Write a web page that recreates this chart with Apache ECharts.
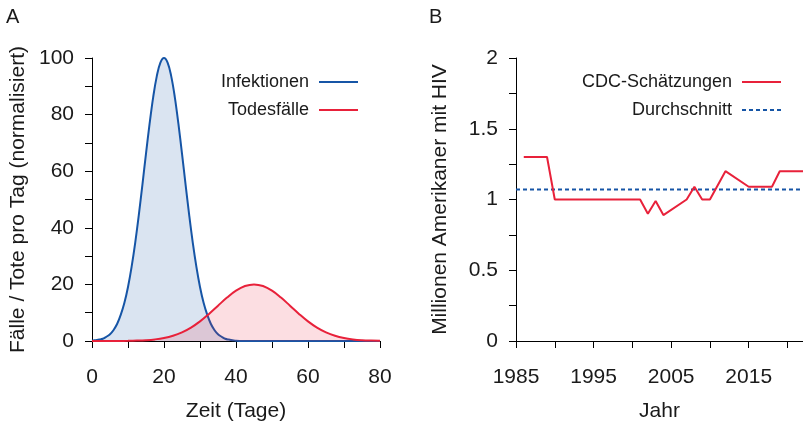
<!DOCTYPE html>
<html>
<head>
<meta charset="utf-8">
<script src="https://cdn.jsdelivr.net/npm/echarts@6/dist/echarts.min.js"></script>
<style>
html,body{margin:0;padding:0;background:#fff;}
#c{width:803px;height:427px;}
</style>
</head>
<body>
<div id="c"></div>
<script>
// Panel A data (days, normalized per-day values)
var daysInf = [0,1,2,3,4,5,6,7,8,9,10,11,12,13,14,15,16,17,18,19,20,21,22,23,24,25,26,27,28,29,30,31,32,33,34,35,36,37,38,39,40,42,80];
var infektionen = [0.1,0.3,0.5,0.8,1.5,2.4,3.9,6.1,9.3,13.5,19.1,26.2,34.7,44.5,55.2,66.2,76.8,86.2,93.6,98.4,100,98.4,93.6,86.2,76.8,66.2,55.2,44.5,34.7,26.2,19.1,13.5,9.3,6.1,3.9,2.4,1.5,0.8,0.5,0.3,0.1,0,0];
var daysTod = [0,2.5,5,7.5,10,12.5,15,17.5,20,22.5,25,27.5,30,32.5,35,37.5,40,42.5,45,47.5,50,52.5,55,57.5,60,62.5,65,67.5,70,72.5,75,77.5,80];
var todesfaelle = [0,0,0.01,0.03,0.06,0.14,0.29,0.57,1.05,1.84,3.04,4.72,6.93,9.58,12.48,15.34,17.78,19.42,20,19.42,17.78,15.34,12.48,9.58,6.93,4.72,3.04,1.84,1.05,0.57,0.29,0.14,0.06];
var xTicksA = [0,20,40,60,80];
var yTicksA = [0,20,40,60,80,100];

// Panel B data (millions of Americans with HIV)
var jahre = [1986,1989,1990,2001,2002,2003,2004,2007,2008,2009,2010,2012,2015,2018,2019,2022];
var cdc = [1.3,1.3,1.0,1.0,0.9,0.99,0.89,1.0,1.09,1.0,1.0,1.2,1.09,1.09,1.2,1.2];
var durchschnittJahre = [1985,2022];
var durchschnitt = [1.07,1.07];
var xTicksB = [1985,1995,2005,2015];
var yTicksB = [0,0.5,1,1.5,2];

function pairs(xs, ys){ return xs.map(function(x,i){return [x, ys[i]];}); }

var FONT = 'Liberation Sans, Arial, Helvetica, sans-serif';
var TXT = '#1a1a1a';
var BLUE = '#1655a6';
var RED = '#e8213a';

function axisCommon(){
  return {
    axisLine:{show:true, onZero:false, lineStyle:{color:'#000', width:1}},
    axisTick:{show:true, inside:false, length:7, lineStyle:{color:'#000', width:1}},
    splitLine:{show:false},
    nameTextStyle:{color:TXT, fontSize:21, fontFamily:FONT},
    axisLabel:{color:TXT, fontSize:21, fontFamily:FONT}
  };
}

function labelIn(list){
  return function(v){
    for (var i=0;i<list.length;i++){ if (Math.abs(list[i]-v) < 1e-6) return String(list[i]); }
    return '';
  };
}

var xA = Object.assign(axisCommon(), {
  type:'value', gridIndex:0, min:0, max:80, interval:10,
  name:'Zeit (Tage)', nameLocation:'middle', nameGap:60
});
xA.axisLabel = Object.assign(xA.axisLabel, {margin:26, formatter:labelIn(xTicksA), showMaxLabel:true});

var yA = Object.assign(axisCommon(), {
  type:'value', gridIndex:0, min:0, max:100, interval:10,
  name:'Fälle / Tote pro Tag (normalisiert)', nameLocation:'middle', nameGap:63
});
yA.axisLabel = Object.assign(yA.axisLabel, {margin:18, formatter:labelIn(yTicksA)});

var xB = Object.assign(axisCommon(), {
  type:'value', gridIndex:1, min:1985, max:2022, interval:5,
  name:'Jahr', nameLocation:'middle', nameGap:60
});
xB.axisLabel = Object.assign(xB.axisLabel, {margin:26, formatter:labelIn(xTicksB), showMaxLabel:false});

var yB = Object.assign(axisCommon(), {
  type:'value', gridIndex:1, min:0, max:2, interval:0.25,
  name:'Millionen Amerikaner mit HIV', nameLocation:'middle', nameGap:65
});
yB.axisLabel = Object.assign(yB.axisLabel, {margin:18, formatter:labelIn(yTicksB)});

var legendCommon = {
  orient:'vertical', align:'right', top:73, padding:0, itemWidth:39, itemHeight:16, itemGap:10,
  textStyle:{color:TXT, fontSize:18, fontFamily:FONT, padding:[0,5,0,0]},
  itemStyle:{opacity:0, borderWidth:0}
};

var chart = echarts.init(document.getElementById('c'), null, {renderer:'canvas'});
chart.setOption({
  animation:false,
  backgroundColor:'#fff',
  textStyle:{fontFamily:FONT},
  title:[
    {text:'A', left:1, top:2, textStyle:{fontSize:20, fontWeight:'normal', color:TXT, fontFamily:FONT}},
    {text:'B', left:424, top:2, textStyle:{fontSize:20, fontWeight:'normal', color:TXT, fontFamily:FONT}}
  ],
  grid:[
    {left:92, top:58, width:288, height:286},
    {left:516, top:58, width:287, height:286}
  ],
  xAxis:[xA, xB],
  yAxis:[yA, yB],
  legend:[
    Object.assign({data:['Infektionen','Todesfälle'], right:444}, legendCommon),
    Object.assign({data:['CDC-Schätzungen','Durchschnitt'], right:21}, legendCommon)
  ],
  series:[
    {
      name:'Infektionen', type:'line', xAxisIndex:0, yAxisIndex:0,
      data:pairs(daysInf, infektionen), smooth:0.4, symbol:'none', showSymbol:false,
      lineStyle:{color:BLUE, width:2}, itemStyle:{color:BLUE},
      areaStyle:{color:'rgba(22,85,166,0.23)'}, z:2
    },
    {
      name:'Todesfälle', type:'line', xAxisIndex:0, yAxisIndex:0,
      data:pairs(daysTod, todesfaelle), smooth:0.4, symbol:'none', showSymbol:false,
      lineStyle:{color:RED, width:2}, itemStyle:{color:RED},
      areaStyle:{color:'rgba(232,33,58,0.21)'}, z:3
    },
    {
      name:'CDC-Schätzungen', type:'line', xAxisIndex:1, yAxisIndex:1,
      data:pairs(jahre, cdc), symbol:'none', showSymbol:false,
      lineStyle:{color:RED, width:2}, itemStyle:{color:RED}, z:3
    },
    {
      name:'Durchschnitt', type:'line', xAxisIndex:1, yAxisIndex:1,
      data:pairs(durchschnittJahre, durchschnitt), symbol:'none', showSymbol:false,
      lineStyle:{color:BLUE, width:2, type:[4,3]}, itemStyle:{color:BLUE}, z:2
    }
  ]
});
</script>
</body>
</html>
